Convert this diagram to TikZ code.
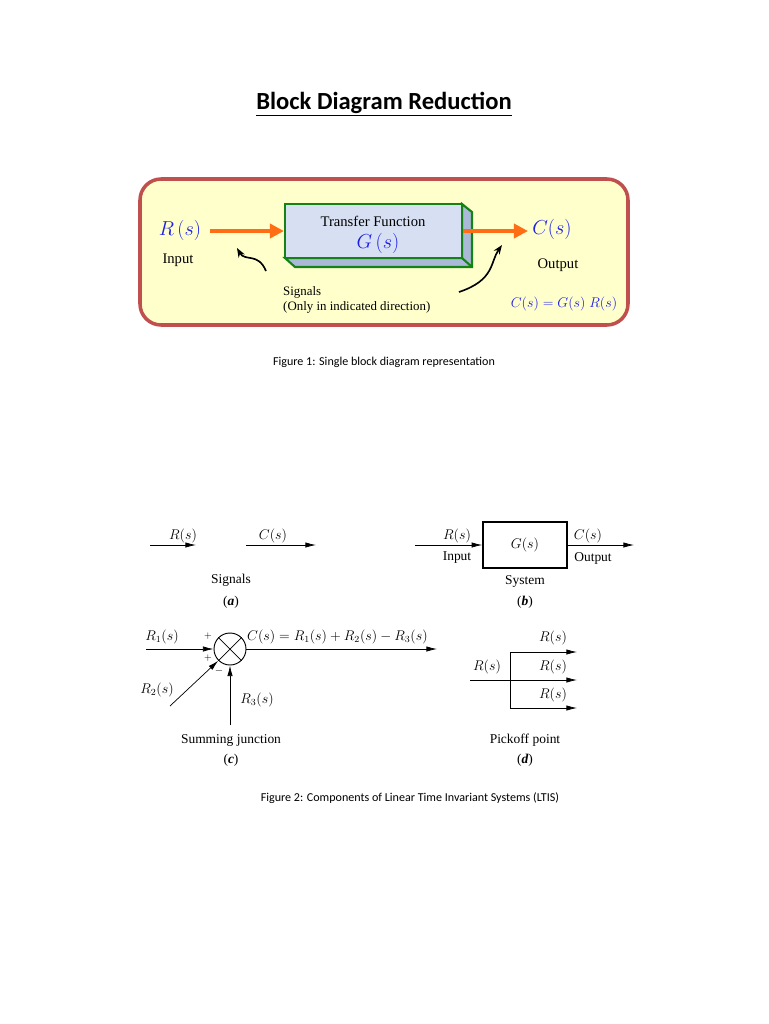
\documentclass[tikz,border=0pt]{standalone}
\usepackage{fontspec}
\setmainfont{Liberation Serif}
\newfontfamily\calibri{Carlito}
\usetikzlibrary{arrows.meta}
\definecolor{panel}{RGB}{255,255,204}
\definecolor{rim}{RGB}{192,80,77}
\definecolor{boxface}{RGB}{214,224,242}
\definecolor{boxside}{RGB}{170,185,215}
\definecolor{boxline}{RGB}{20,130,20}
\definecolor{sig}{RGB}{255,110,20}
\definecolor{txtblue}{RGB}{30,30,230}
\tikzset{
  sigarrow/.style={line width=3.5pt,draw=sig,-{Triangle[length=12pt,width=12pt]}},
  line/.style={line width=0.6pt,-{Latex[length=9pt,width=4.5pt]}},
  plain/.style={line width=0.6pt},
  lbl/.style={inner sep=0pt,font=\fontsize{11.5}{12}\selectfont},
  blu/.style={inner sep=0pt,text=txtblue},
  figcap/.style={inner sep=0pt,font=\calibri\fontsize{10.3}{12}\selectfont}
}
\begin{document}
\begin{tikzpicture}[x=0.3mm,y=-0.3mm]
\useasboundingbox (0,0) rectangle (768,1024);
\node[inner sep=0pt,font=\calibri\bfseries\fontsize{21}{24}\selectfont] (title) at (384,104) {\underline{Block Diagram Reduction}};
% single block
\draw[rim,line width=3pt,fill=panel,rounded corners=18pt] (140,179) rectangle (628,325);
\fill[boxside,draw=boxline,line width=1.8pt] (462,204) -- (472,212) -- (472,267) -- (295,267) -- (285,258) -- (462,258) -- cycle;
\draw[boxline,line width=1.8pt] (462,258) -- (472,267);
\node[draw=boxline,line width=1.8pt,fill=boxface,minimum width=177*0.3mm,minimum height=54*0.3mm,inner sep=0pt] (tf) at (373.5,231) {};
\node[inner sep=0pt,font=\fontsize{12.5}{14}\selectfont] (tftext) at (373,221) {Transfer Function};
\node[blu,font=\fontsize{17}{18}\selectfont] (G) at (378,243) {$G\left(s\right)$};
\node[blu,font=\fontsize{16}{18}\selectfont] (R) at (180,230) {$R\,(s)$};
\node[inner sep=0pt,font=\fontsize{12.5}{14}\selectfont] (inp) at (178,260) {Input};
\node[blu,font=\fontsize{18}{20}\selectfont] (C) at (552,229) {$C(s)$};
\node[inner sep=0pt,font=\fontsize{12.5}{14}\selectfont] (outp) at (558,265) {Output};
\node[inner sep=0pt,font=\fontsize{11}{13}\selectfont,align=left,anchor=west] (sigtxt) at (283,300) {Signals\\(Only in indicated direction)};
\node[blu,font=\fontsize{12}{14}\selectfont] (eq) at (564,304) {$C(s)=G(s)\;R(s)$};
\coordinate (inL) at (210,231);
\coordinate (outR) at (528,231);
\draw[sigarrow] (inL) -- (tf.west);
\draw[sigarrow] (tf.east) -- (outR);
\draw[line width=1.4pt,-{Stealth[length=8pt]}] (266,271) .. controls (258,252) and (245,262) .. (237,248);
\draw[line width=1.4pt,-{Stealth[length=8pt]}] (459,292) .. controls (495,280) and (490,262) .. (502,245);
\node[figcap] (cap1) at (384,362) {Figure 1: Single block diagram representation};
% (a) signals
\coordinate (a1) at (150,545); \coordinate (a2) at (196,545);
\coordinate (a3) at (246,545); \coordinate (a4) at (316,545);
\draw[line] (a1) -- (a2);
\draw[line] (a3) -- (a4);
\node[lbl] at (183,536) {$R(s)$};
\node[lbl] at (273,536) {$C(s)$};
\node[lbl] at (231,580) {Signals};
\node[lbl] at (231,602) {(\textbf{\textit{a}})};
% (b) system
\node[draw,line width=1.3pt,minimum width=84*0.3mm,minimum height=46*0.3mm,inner sep=0pt,font=\fontsize{11.5}{12}\selectfont] (sys) at (525,545) {$G(s)$};
\coordinate (bin) at (415,545); \coordinate (bout) at (634,545);
\draw[line] (bin) -- (sys.west);
\draw[line] (sys.east) -- (bout);
\node[lbl] at (457,536) {$R(s)$};
\node[lbl] at (457,558) {Input};
\node[lbl] at (588,536) {$C(s)$};
\node[lbl] at (593,558) {Output};
\node[lbl] at (525,581) {System};
\node[lbl] at (525,602) {(\textbf{\textit{b}})};
% (c) summing junction
\node[draw,circle,line width=0.8pt,minimum size=32*0.3mm,inner sep=0pt] (sum) at (230,649) {};
\draw[plain] (sum.north west) -- (sum.south east) (sum.north east) -- (sum.south west);
\coordinate (r1) at (146,649); \coordinate (r2) at (170,706);
\coordinate (r3) at (230,725); \coordinate (cout) at (437,649);
\draw[line] (r1) -- (sum.west);
\draw[line] (r2) -- (sum.south west);
\draw[line] (r3) -- (sum.south);
\draw[line] (sum.east) -- (cout);
\node[lbl] at (162,637) {$R_1(s)$};
\node[lbl] at (157,690) {$R_2(s)$};
\node[lbl] at (257,700) {$R_3(s)$};
\node[lbl,anchor=west] at (247,637) {$C(s) = R_1(s) + R_2(s) - R_3(s)$};
\node[inner sep=0pt,font=\fontsize{8}{9}\selectfont] at (208,636) {$+$};
\node[inner sep=0pt,font=\fontsize{8}{9}\selectfont] at (208,658) {$+$};
\node[inner sep=0pt,font=\fontsize{9}{9}\selectfont] at (219,671) {$-$};
\node[lbl] at (231,740) {Summing junction};
\node[lbl] at (231,760) {(\textbf{\textit{c}})};
% (d) pickoff point
\coordinate (pin) at (470,680); \coordinate (pk) at (510,680);
\coordinate (pt) at (510,652); \coordinate (pb) at (510,708);
\draw[plain] (pin) -- (pk);
\draw[plain] (pt) -- (pb);
\draw[line] (pt) -- (577,652);
\draw[line] (pk) -- (577,680);
\draw[line] (pb) -- (577,708);
\node[lbl] at (487,667) {$R(s)$};
\node[lbl] at (553,638) {$R(s)$};
\node[lbl] at (553,667) {$R(s)$};
\node[lbl] at (553,695) {$R(s)$};
\node[lbl] at (525,740) {Pickoff point};
\node[lbl] at (525,760) {(\textbf{\textit{d}})};
\node[figcap] (cap2) at (410,798) {Figure 2: Components of Linear Time Invariant Systems (LTIS)};
\end{tikzpicture}
\end{document}
